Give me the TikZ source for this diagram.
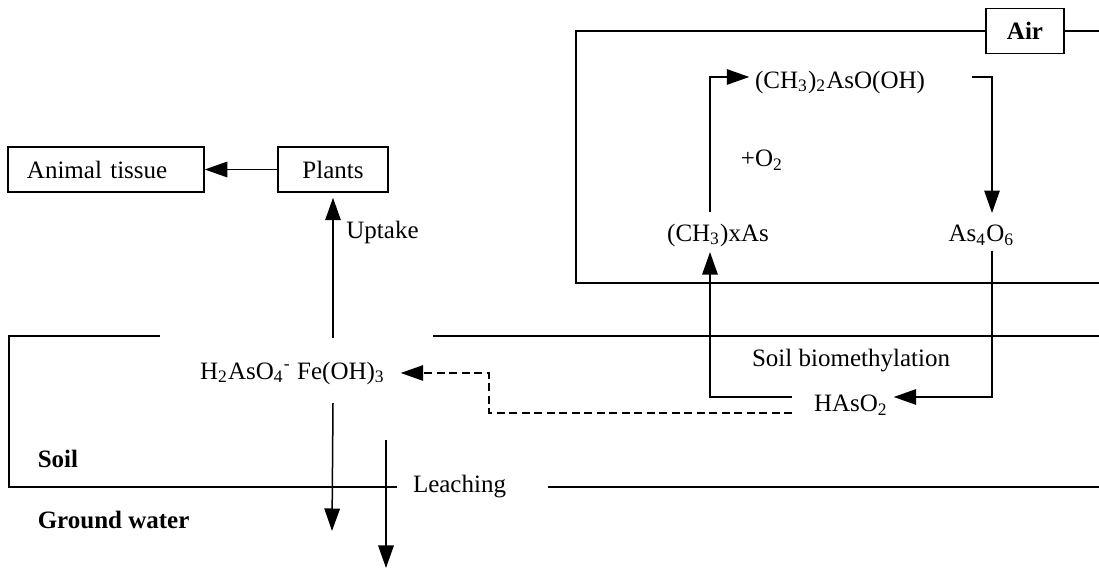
\documentclass[tikz,border=0pt]{standalone}
\usepackage{fontspec}
\setmainfont{Liberation Serif}
\usetikzlibrary{arrows.meta,calc,positioning}

\begin{document}
\begin{tikzpicture}[x=0.4pt,y=-0.4pt,>={Triangle[length=9pt,width=6.2pt]},
      line width=0.6pt,
      box/.style={draw,minimum height=18pt,inner sep=2pt},
      chem/.style={inner sep=2pt},
      arr/.style={->},
      dashline/.style={dash pattern=on 3.2pt off 1.8pt}]
  \useasboundingbox (0,0) rectangle (1099,570);
  % compartments
  \node[box,minimum width=31.2pt,font=\bfseries] (air) at (1025,31) {Air};
  \draw (1099,31) -- (air.east);
  \draw (air.west) -- (576,31) -- (576,283) -- (1099,283);
  \draw (160,336) -- (9,336) -- (9,487) -- (397,487);
  \draw (433,336) -- (1099,336);
  \draw (548,487) -- (1099,487);
  % species
  \node[box,text width=63.2pt,inner xsep=7.6pt,align=left] (animal) at (106,169.5) {Animal tissue};
  \node[box,minimum width=44pt] (plants) at (333,169.5) {Plants};
  \node[chem] (arsen) at (292.5,373) {H\textsubscript{2}AsO\textsubscript{4}\textsuperscript{-} Fe(OH)\textsubscript{3}};
  \node[chem] (hasoo) at (851,405) {HAsO\textsubscript{2}};
  \node[chem] (methyl) at (718,235) {(CH\textsubscript{3})xAs};
  \node[chem] (asox) at (981.5,235) {As\textsubscript{4}O\textsubscript{6}};
  \node[chem] (dma) at (840,82) {(CH\textsubscript{3})\textsubscript{2}AsO(OH)};
  % labels
  \node (uptake) at (382.5,232) {Uptake};
  \node (oxy) at (762,160) {+O\textsubscript{2}};
  \node (biometh) at (851,361) {Soil biomethylation};
  \node[anchor=west,inner sep=0pt,font=\bfseries] (soil) at (37,459) {Soil};
  \node[anchor=west,inner sep=0pt,font=\bfseries] (gwater) at (37,520) {Ground water};
  \node (leach) at (459.5,487) {Leaching};
  % loop columns and free ends
  \coordinate (lx) at (710,0);
  \coordinate (rx) at (992,0);
  \coordinate (dk) at (489,0);
  \coordinate (gw1) at (332,531);
  \coordinate (lc0) at (386,440);
  \coordinate (lc1) at (386,568);
  % connectors
  \draw[arr] (plants.west) -- (animal.east);
  \draw[arr,shorten >=2pt] ($(arsen.north -| plants)+(0,-18)$) -- (plants.south);
  \draw[arr] ($(arsen.south -| plants)+(0,13)$) -- (gw1);
  \draw[arr] (lc0) -- (lc1);
  \draw[arr,dashline,shorten >=4pt] ($(hasoo.west)+(-16,8)$) -| (dk |- arsen.east) -- (arsen.east);
  \draw[arr] ($(hasoo.west)+(-16,-8)$) -| (lx |- methyl.south);
  \draw[arr] (rx |- asox.south) |- ($(hasoo.east)+(0,-8)$);
  \draw[arr] ($(lx |- methyl.north)+(0,-6)$) |- ($(dma.west)+(0,-5)$);
  \draw[arr] ($(dma.east)+(41,-5)$) -| ($(rx |- asox.north)+(0,-6)$);
\end{tikzpicture}
\end{document}
